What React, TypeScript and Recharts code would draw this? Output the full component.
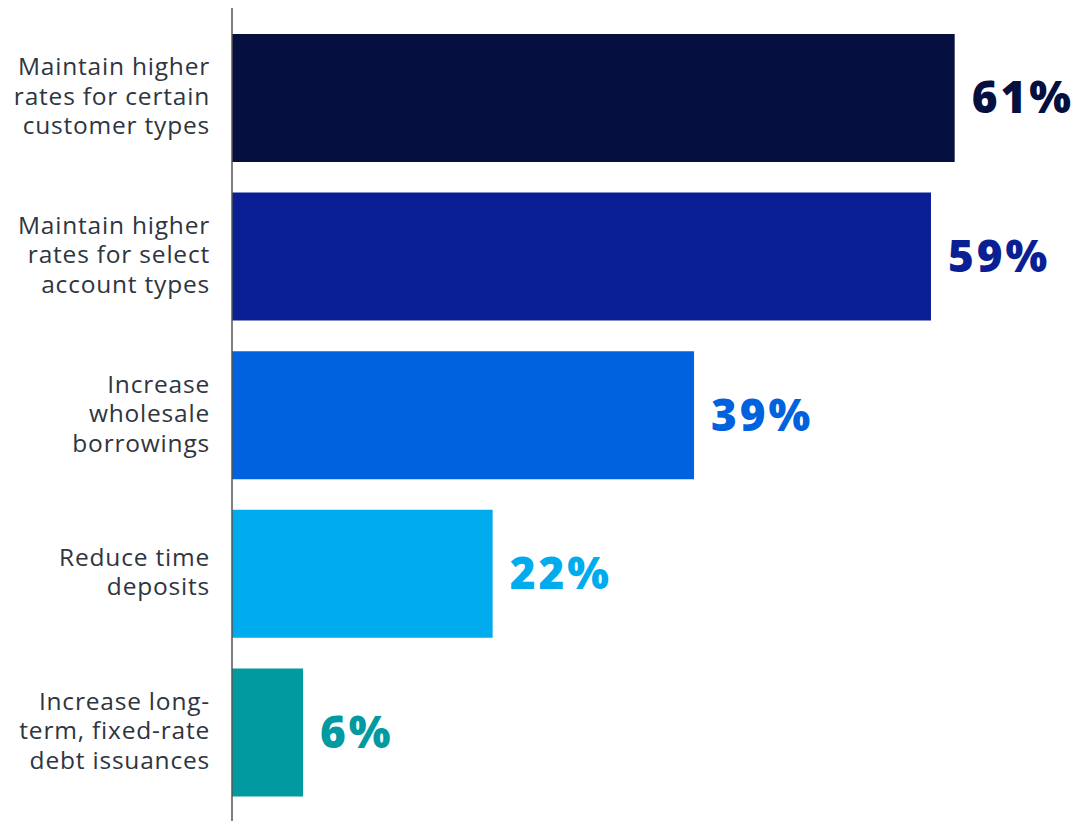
import { BarChart, Bar, XAxis, YAxis, Cell, LabelList } from "recharts";

const categories = [
  "Maintain higher\nrates for certain\ncustomer types",
  "Maintain higher\nrates for select\naccount types",
  "Increase\nwholesale\nborrowings",
  "Reduce time\ndeposits",
  "Increase long-\nterm, fixed-rate\ndebt issuances",
];
const shares = [61, 59, 39, 22, 6];
const colors = ["#050f40", "#0a1f94", "#0062de", "#00acee", "#009aa0"];

const data = categories.map((name, i) => ({ name, value: shares[i] }));

const CategoryTick = (props: any) => {
  const { x, y, payload } = props;
  const lines = String(payload.value).split("\n");
  const lh = 29.5;
  const start = -((lines.length - 1) * lh) / 2;
  const tx = x - 14;
  return (
    <text
      x={tx}
      y={y}
      textAnchor="end"
      fill="#2f3540"
      fontSize={24.5}
      letterSpacing={0.8}
      fontFamily="'Open Sans', 'Noto Sans', sans-serif"
    >
      {lines.map((l, i) => (
        <tspan key={i} x={tx} y={y + start + i * lh - 2} dy="0.35em">
          {l}
        </tspan>
      ))}
    </text>
  );
};

const ValueLabel = (props: any) => {
  const { x, y, width, height, value, index } = props;
  return (
    <text
      x={x + width + 17}
      y={y + height / 2}
      dy="0.35em"
      textAnchor="start"
      fill={colors[index]}
      fontSize={44}
      fontWeight={800}
      letterSpacing={3}
      fontFamily="'Open Sans', 'Noto Sans', sans-serif"
    >
      {value}%
    </text>
  );
};

export default function App() {
  return (
    <div style={{ margin: -8, background: "#fff", width: 1092, height: 829 }}>
      <BarChart
        width={1092}
        height={829}
        data={data}
        layout="vertical"
        margin={{ top: 5, right: 7, bottom: 0, left: 0 }}
      >
        <XAxis type="number" domain={[0, 72]} hide />
        <YAxis
          type="category"
          dataKey="name"
          width={232}
          axisLine={{ stroke: "#555", strokeWidth: 1.5 }}
          tickLine={false}
          tick={<CategoryTick />}
          padding={{ top: 14, bottom: 17 }}
          interval={0}
        />
        <Bar dataKey="value" barSize={128} isAnimationActive={false}>
          {data.map((_, i) => (
            <Cell key={i} fill={colors[i]} />
          ))}
          <LabelList dataKey="value" content={<ValueLabel />} />
        </Bar>
      </BarChart>
    </div>
  );
}
